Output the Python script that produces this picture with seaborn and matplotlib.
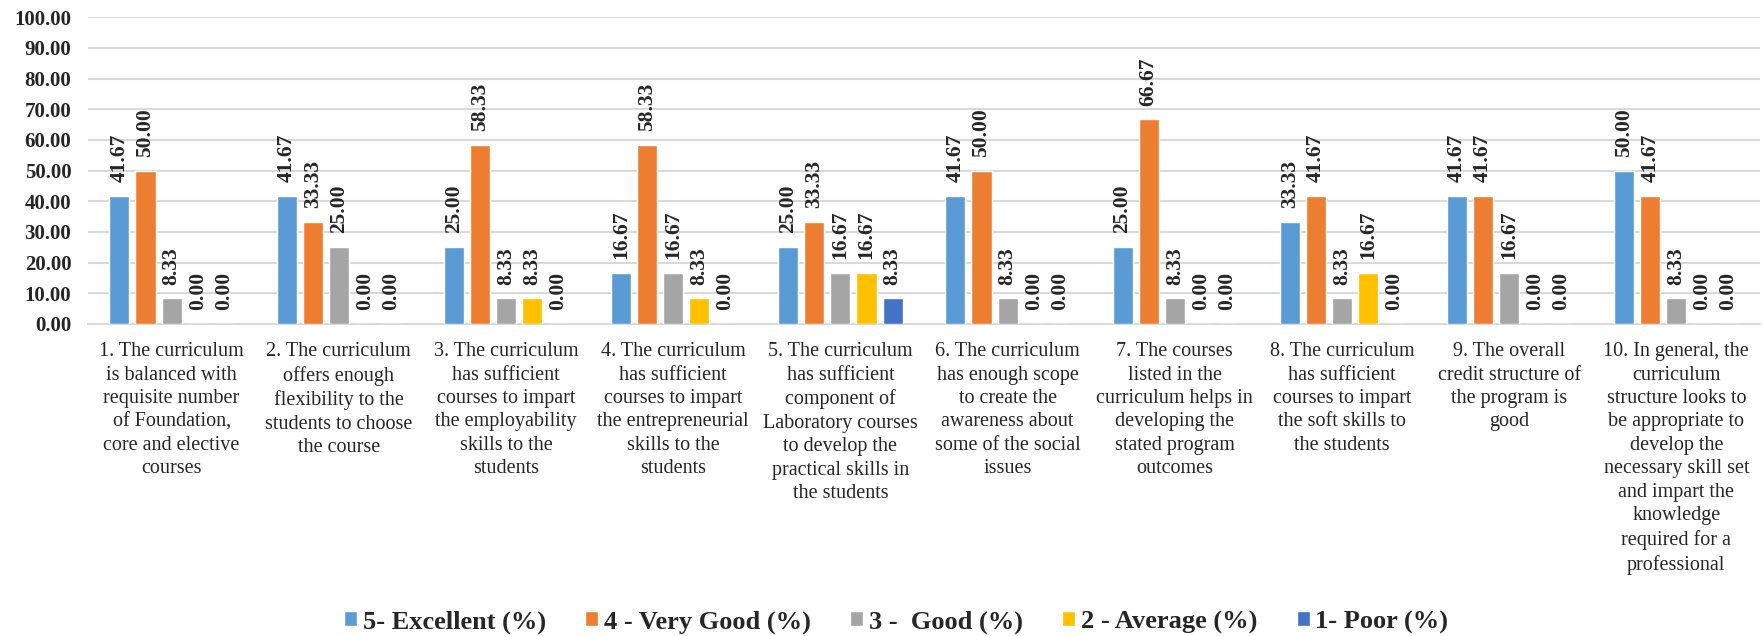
import pandas as pd
import matplotlib.pyplot as plt
import seaborn as sns
from matplotlib.ticker import FormatStrFormatter, MultipleLocator

# Survey items (x-axis categories, wrapped like the original)
items = [
    "1. The curriculum\nis balanced with\nrequisite number\nof Foundation,\ncore and elective\ncourses",
    "2. The curriculum\noffers enough\nflexibility to the\nstudents to choose\nthe course",
    "3. The curriculum\nhas sufficient\ncourses to impart\nthe employability\nskills to the\nstudents",
    "4. The curriculum\nhas sufficient\ncourses to impart\nthe entrepreneurial\nskills to the\nstudents",
    "5. The curriculum\nhas sufficient\ncomponent of\nLaboratory courses\nto develop the\npractical skills in\nthe students",
    "6. The curriculum\nhas enough scope\nto create the\nawareness about\nsome of the social\nissues",
    "7. The courses\nlisted in the\ncurriculum helps in\ndeveloping the\nstated program\noutcomes",
    "8. The curriculum\nhas sufficient\ncourses to impart\nthe soft skills to\nthe students",
    "9. The overall\ncredit structure of\nthe program is\ngood",
    "10. In general, the\ncurriculum\nstructure looks to\nbe appropriate to\ndevelop the\nnecessary skill set\nand impart the\nknowledge\nrequired for a\nprofessional",
]

ratings = ["5- Excellent (%)", "4 - Very Good (%)", "3 -  Good (%)",
           "2 - Average (%)", "1- Poor (%)"]

excellent = [41.67, 41.67, 25.00, 16.67, 25.00, 41.67, 25.00, 33.33, 41.67, 50.00]
very_good = [50.00, 33.33, 58.33, 58.33, 33.33, 50.00, 66.67, 41.67, 41.67, 41.67]
good      = [8.33, 25.00, 8.33, 16.67, 16.67, 8.33, 8.33, 8.33, 16.67, 8.33]
average   = [0.00, 0.00, 8.33, 8.33, 16.67, 0.00, 0.00, 16.67, 0.00, 0.00]
poor      = [0.00, 0.00, 0.00, 0.00, 8.33, 0.00, 0.00, 0.00, 0.00, 0.00]

colors = ["#5B9BD5", "#ED7D31", "#A5A5A5", "#FFC000", "#4472C4"]

# long format table for seaborn
rows = []
for rating, vals in zip(ratings, [excellent, very_good, good, average, poor]):
    for item, v in zip(items, vals):
        rows.append({"item": item, "rating": rating, "value": v})
df = pd.DataFrame(rows)

sns.set_style("white")
plt.rcParams["font.family"] = ["Liberation Serif", "DejaVu Serif"]

fig = plt.figure(figsize=(17.64, 6.36), dpi=100)
ax = fig.add_axes([0.0499, 0.4906, 0.9478, 0.4824])

sns.barplot(data=df, x="item", y="value", hue="rating", hue_order=ratings,
            palette=colors, saturation=1, errorbar=None, width=0.78, gap=0.23,
            ax=ax, zorder=3)

for cont in ax.containers:
    ax.bar_label(cont, fmt="%.2f", rotation=90, padding=10,
                 fontsize=15.5, fontweight="bold")

ax.set_ylim(0, 100)
ax.yaxis.set_major_locator(MultipleLocator(10))
ax.yaxis.set_major_formatter(FormatStrFormatter("%.2f"))
ax.grid(axis="y", color="#D9D9D9", linewidth=1.5, zorder=0)
ax.set_axisbelow(True)

for s in ["top", "right", "left"]:
    ax.spines[s].set_visible(False)
ax.spines["bottom"].set_color("#D9D9D9")
ax.spines["bottom"].set_linewidth(1.5)

ax.tick_params(axis="y", length=0, pad=12, labelsize=15)
ax.tick_params(axis="x", length=0, pad=13, labelsize=14.5)
for t in ax.get_yticklabels():
    t.set_fontweight("bold")
for t in ax.get_xticklabels():
    t.set_linespacing(1.32)
    t.set_verticalalignment("top")

ax.set_xlabel("")
ax.set_ylabel("")

handles, labels = ax.get_legend_handles_labels()
ax.legend_.remove()
fig.legend(handles, labels, loc="center", bbox_to_anchor=(0.508, 0.022),
           ncol=5, frameon=False, handlelength=0.5, handleheight=0.5,
           handletextpad=0.2, columnspacing=1.5,
           prop={"size": 19, "weight": "bold"})

plt.savefig("out.png", dpi=100)
plt.close()
